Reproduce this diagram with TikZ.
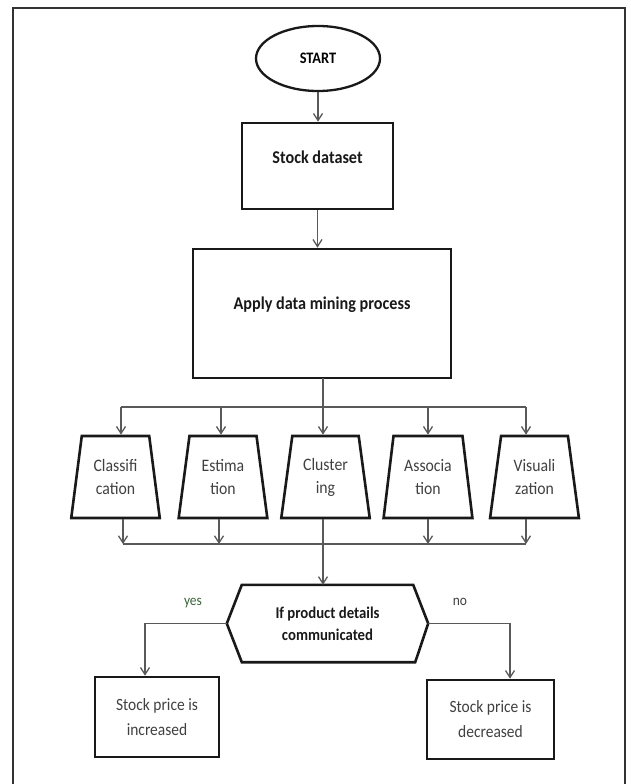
\documentclass[tikz,border=0pt]{standalone}
\usepackage{fontspec}
\setmainfont{Carlito}[FakeStretch=0.9]
\usetikzlibrary{arrows.meta,shapes.geometric}
\definecolor{yesgreen}{RGB}{60,100,60}
\begin{document}
\begin{tikzpicture}[x=1pt,y=-1pt,
  box/.style={draw=black!90, line width=2.6pt, rectangle, inner sep=0pt, align=center},
  trap/.style={draw=black!90, line width=2.6pt, trapezium, trapezium stretches=true,
    trapezium left angle=79, trapezium right angle=79, minimum width=89pt,
    minimum height=82pt, inner sep=0pt, align=center,
    font=\fontsize{17.5}{23}\selectfont, text=black!75},
  conn/.style={draw=black!65, line width=1.3pt},
  arr/.style={conn, -{Straight Barb[length=7pt,width=9pt]}},
  boldtxt/.style={font=\fontsize{18}{22}\selectfont\bfseries, text=black!90},
  regtxt/.style={font=\fontsize{17.2}{25}\selectfont, text=black!75}]
\useasboundingbox (0,0) rectangle (630,784);
% outer frame (open at bottom)
\draw[draw=black!80, line width=2pt] (13,784) -- (13,8) -- (625,8) -- (625,784);

% top part
\node[ellipse, draw=black!90, line width=2.3pt, minimum width=124pt, minimum height=65pt,
  inner sep=0pt, font=\fontsize{16}{20}\selectfont\bfseries] (start) at (318,58.5) {START};
\node[box, minimum width=151pt, minimum height=86pt] (stock) at (317.5,166) {};
\node[boldtxt] (stockt) at ([yshift=9pt]stock.center) {Stock dataset};
\node[box, minimum width=258pt, minimum height=129pt] (apply) at (322,313.5) {};
\node[boldtxt] (applyt) at ([yshift=9pt]apply.center) {Apply data mining process};

\draw[arr] (start.south) -- (start.south |- stock.north);
\draw[arr] (stock.south) -- (stock.south |- apply.north);

% trapezoids
\node[trap] (cls) at (115.5,477) {Classifi\\cation};
\node[trap] (est) at (223,477) {Estima\\tion};
\node[trap] (clu) at (325.5,477) {Cluster\\ing};
\node[trap] (ass) at (428,477) {Associa\\tion};
\node[trap] (vis) at (534.5,477) {Visuali\\zation};

% distribution bus
\coordinate (ac) at (323,378);
\coordinate (ta) at (121,407);
\coordinate (tb) at (221,407);
\coordinate (td) at (428,407);
\coordinate (te) at (526,407);
\draw[conn] (ta) -- (te);
\draw[arr] (ac) -- (ac |- clu.north);
\draw[arr] (ta) -- (ta |- cls.north);
\draw[arr] (tb) -- (tb |- est.north);
\draw[arr] (td) -- (td |- ass.north);
\draw[arr] (te) -- (te |- vis.north);

% collecting bus
\coordinate (ba) at (123,544);
\coordinate (bb) at (219,544);
\coordinate (bd) at (428,544);
\coordinate (be) at (526,544);
\draw[conn] (ba) -- (be);
\draw[arr] (ba |- cls.south) -- (ba);
\draw[arr] (bb |- est.south) -- (bb);
\draw[arr] (bd |- ass.south) -- (bd);
\draw[arr] (be |- vis.south) -- (be);

% decision
\node[minimum width=201pt, minimum height=77pt, inner sep=0pt, align=center,
  font=\fontsize{16.4}{22}\selectfont\bfseries, text=black!90] (dec) at (327.5,623.5)
  {If product details\\communicated};
\draw[line width=2.6pt, black!90, line join=miter]
  (dec.west) -- ([xshift=15pt]dec.north west) -- ([xshift=-15pt]dec.north east)
  -- (dec.east) -- ([xshift=-13pt]dec.south east) -- ([xshift=15pt]dec.south west) -- cycle;
\draw[arr] (clu.south -| ac) -- (ac |- dec.north);

% outcomes
\node[box, regtxt, minimum width=124pt, minimum height=80pt] (inc) at (157,717)
  {Stock price is\\increased};
\node[box, regtxt, minimum width=127pt, minimum height=79pt] (dcr) at (490.5,719.5)
  {Stock price is\\decreased};
\coordinate (yc) at (145,623.5);
\coordinate (nc) at (510,623.5);
\draw[arr] (dec.west) -- (yc) -- (yc |- inc.north);
\draw[arr] (dec.east) -- (nc) -- (nc |- dcr.north);
\node[font=\fontsize{15}{18}\selectfont, text=yesgreen] (yes) at (193,603) {yes};
\node[font=\fontsize{15}{18}\selectfont, text=black!75] (no) at (460,602) {no};
\end{tikzpicture}
\end{document}
